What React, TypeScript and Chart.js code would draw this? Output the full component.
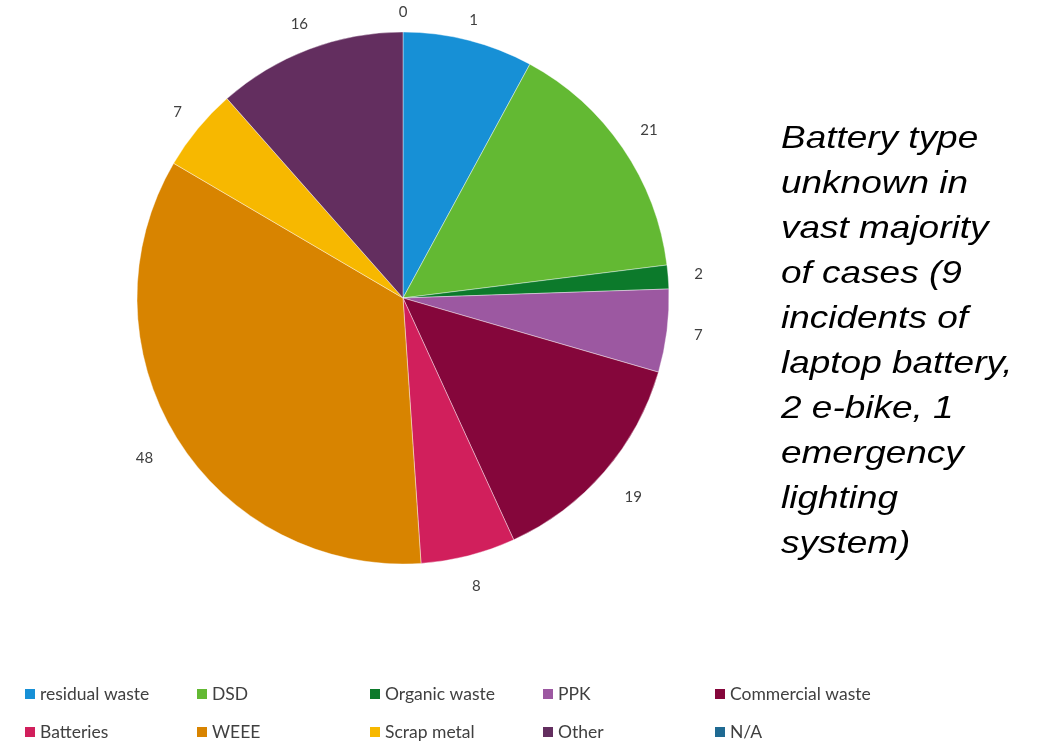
import React, { useEffect, useRef } from "react";
import { Chart, registerables } from "chart.js";

Chart.register(...registerables);

const categories = [
  "residual waste",
  "DSD",
  "Organic waste",
  "PPK",
  "Commercial waste",
  "Batteries",
  "WEEE",
  "Scrap metal",
  "Other",
  "N/A",
];
const values = [11, 21, 2, 7, 19, 8, 48, 7, 16, 0];
const valueLabels = ["1", "21", "2", "7", "19", "8", "48", "7", "16", "0"];
const colors = [
  "#1790D6",
  "#63B933",
  "#0C7A2B",
  "#9C58A1",
  "#85063B",
  "#D11F5C",
  "#D88400",
  "#F7B800",
  "#632E5F",
  "#1F6A92",
];
const noteLines = [
  "Battery type",
  "unknown in",
  "vast majority",
  "of cases (9",
  "incidents of",
  "laptop battery,",
  "2 e-bike, 1",
  "emergency",
  "lighting",
  "system)",
];

const legendCols = [25, 197, 370, 543, 715];
const legendRows = [694, 732];

const outsideLabels = {
  id: "outsideLabels",
  afterDatasetsDraw(chart: any) {
    const ctx = chart.ctx;
    const meta = chart.getDatasetMeta(0);
    ctx.save();
    ctx.font = "15px Lato, 'Open Sans', sans-serif";
    ctx.fillStyle = "#404040";
    ctx.textAlign = "center";
    ctx.textBaseline = "middle";
    meta.data.forEach((arc: any, i: number) => {
      const { x, y, startAngle, endAngle, outerRadius } = arc.getProps(
        ["x", "y", "startAngle", "endAngle", "outerRadius"],
        true
      );
      const mid = (startAngle + endAngle) / 2;
      const t = mid + Math.PI / 2;
      const txt = valueLabels[i];
      const off =
        25 + 6 * Math.abs(Math.sin(t)) - 5.5 * Math.cos(t) + (txt.length > 1 ? 5 : 0);
      const px = x + (outerRadius + off) * Math.cos(mid);
      const py = y + (outerRadius + off) * Math.sin(mid);
      ctx.fillText(txt, px, py);
    });
    ctx.restore();
  },
};

const gridLegend = {
  id: "gridLegend",
  afterDraw(chart: any) {
    const ctx = chart.ctx;
    const labels = chart.data.labels as string[];
    const bg = chart.data.datasets[0].backgroundColor as string[];
    ctx.save();
    ctx.font = "17.5px Lato, 'Open Sans', sans-serif";
    ctx.textBaseline = "middle";
    ctx.textAlign = "left";
    labels.forEach((lab, i) => {
      const col = i % 5;
      const row = Math.floor(i / 5);
      const x = legendCols[col];
      const y = legendRows[row];
      ctx.fillStyle = bg[i];
      ctx.fillRect(x, y - 5, 10, 10);
      ctx.fillStyle = "#404040";
      ctx.fillText(lab, x + 15, y);
    });
    ctx.restore();
  },
};

export default function App() {
  const ref = useRef<HTMLCanvasElement>(null);
  useEffect(() => {
    if (!ref.current) return;
    const chart = new Chart(ref.current, {
      type: "pie",
      data: {
        labels: categories,
        datasets: [
          {
            data: values,
            backgroundColor: colors,
            borderColor: "rgba(255,255,255,0.4)",
            borderWidth: 1,
          },
        ],
      },
      options: {
        responsive: false,
        animation: false,
        radius: 266,
        layout: { padding: { left: 137, top: 32, right: 369, bottom: 177 } },
        plugins: {
          legend: { display: false },
          tooltip: { enabled: false },
        },
      } as any,
      plugins: [outsideLabels, gridLegend],
    });
    return () => chart.destroy();
  }, []);
  return (
    <div
      style={{
        position: "fixed",
        left: 0,
        top: 0,
        width: 1038,
        height: 741,
        background: "#fff",
      }}
    >
      <canvas ref={ref} width={1038} height={741} style={{ width: 1038, height: 741 }} />
      <div
        style={{
          position: "absolute",
          left: 781,
          top: 115,
          fontFamily: "'Liberation Sans', Arial, sans-serif",
          fontStyle: "italic",
          fontSize: 32,
          lineHeight: "45px",
          color: "#000",
          whiteSpace: "nowrap",
          transform: "scaleX(1.155)",
          transformOrigin: "left top",
        }}
      >
        {noteLines.map((l, i) => (
          <div key={i}>{l}</div>
        ))}
      </div>
    </div>
  );
}
